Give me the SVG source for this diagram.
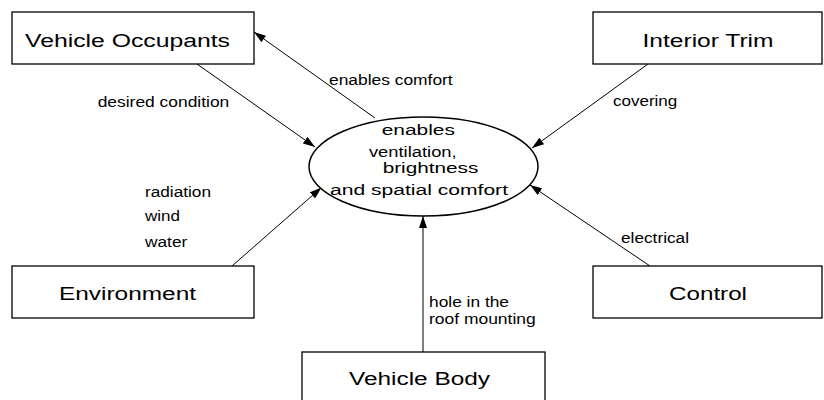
<svg xmlns="http://www.w3.org/2000/svg" width="824" height="400" viewBox="0 0 824 400">
<style>
.box{fill:#fff;stroke:#000;stroke-width:1.3}
.ell{fill:#fff;stroke:#000;stroke-width:1.5}
.edge{stroke:#000;stroke-width:1;fill:none;marker-end:url(#arr)}
.t{font-family:"Liberation Sans",Arial,sans-serif;fill:#000}
.big{font-size:18px;text-anchor:middle}
.mid{font-size:15.5px;text-anchor:middle}
.lbl{font-size:14px}
</style>
<defs>
<marker id="arr" viewBox="0 0 12 8" refX="12" refY="4" markerWidth="12" markerHeight="8" markerUnits="userSpaceOnUse" orient="auto">
<path d="M0,0 L12,4 L0,8 Z" fill="#000"/>
</marker>
</defs>
<rect width="824" height="400" fill="#fff"/>
<g id="connectors">
<line class="edge" x1="197" y1="64" x2="315" y2="147"/>
<line class="edge" x1="375" y1="118" x2="254" y2="32"/>
<line class="edge" x1="648" y1="64" x2="532" y2="148"/>
<line class="edge" x1="650" y1="266" x2="530" y2="185"/>
<line class="edge" x1="232" y1="266" x2="321.5" y2="187.5"/>
<line class="edge" x1="423" y1="352" x2="423" y2="216"/>
<text class="t lbl" x="97.7" y="107" textLength="131.6" lengthAdjust="spacingAndGlyphs">desired condition</text>
<text class="t lbl" x="329" y="85" textLength="123.7" lengthAdjust="spacingAndGlyphs">enables comfort</text>
<text class="t lbl" x="613" y="106" textLength="64.3" lengthAdjust="spacingAndGlyphs">covering</text>
<text class="t lbl" x="145" y="197" textLength="66" lengthAdjust="spacingAndGlyphs">radiation</text>
<text class="t lbl" x="145" y="221" textLength="35" lengthAdjust="spacingAndGlyphs">wind</text>
<text class="t lbl" x="145" y="247" textLength="42.3" lengthAdjust="spacingAndGlyphs">water</text>
<text class="t lbl" x="621" y="243" textLength="68" lengthAdjust="spacingAndGlyphs">electrical</text>
<text class="t lbl" x="429" y="306.5" textLength="80" lengthAdjust="spacingAndGlyphs">hole in the</text>
<text class="t lbl" x="429" y="324" textLength="106.7" lengthAdjust="spacingAndGlyphs">roof mounting</text>
</g>
<g id="function">
<ellipse class="ell" cx="423.5" cy="166.5" rx="114.5" ry="49.5"/>
<text class="t mid" x="418.3" y="135" textLength="73.3" lengthAdjust="spacingAndGlyphs">enables</text>
<text class="t mid" x="412.8" y="157" textLength="87.7" lengthAdjust="spacingAndGlyphs">ventilation,</text>
<text class="t mid" x="430.5" y="173" textLength="95.7" lengthAdjust="spacingAndGlyphs">brightness</text>
<text class="t mid" x="419" y="195" textLength="178" lengthAdjust="spacingAndGlyphs">and spatial comfort</text>
</g>
<g id="vehicle-occupants">
<rect class="box" x="12" y="12" width="242" height="52"/>
<text class="t big" x="127.5" y="47" textLength="205" lengthAdjust="spacingAndGlyphs">Vehicle Occupants</text>
</g>
<g id="interior-trim">
<rect class="box" x="593" y="12" width="229" height="52"/>
<text class="t big" x="708" y="47" textLength="131" lengthAdjust="spacingAndGlyphs">Interior Trim</text>
</g>
<g id="environment">
<rect class="box" x="12" y="266" width="242" height="52"/>
<text class="t big" x="127.5" y="300" textLength="137" lengthAdjust="spacingAndGlyphs">Environment</text>
</g>
<g id="control">
<rect class="box" x="593" y="266" width="229" height="52"/>
<text class="t big" x="708" y="300" textLength="78" lengthAdjust="spacingAndGlyphs">Control</text>
</g>
<g id="vehicle-body">
<rect class="box" x="302" y="352" width="243" height="60"/>
<text class="t big" x="419.5" y="385" textLength="141" lengthAdjust="spacingAndGlyphs">Vehicle Body</text>
</g>
</svg>
